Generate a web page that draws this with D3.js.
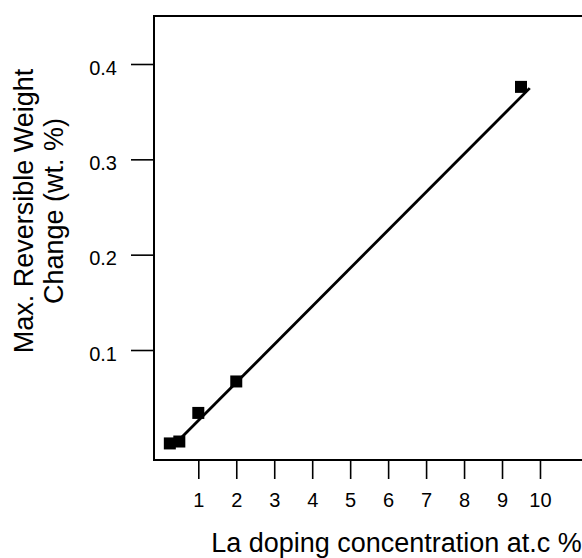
<!DOCTYPE html>
<html>
<head>
<meta charset="utf-8">
<script src="https://cdn.jsdelivr.net/npm/d3@7"></script>
<style>
html,body{margin:0;padding:0;background:#fff;}
svg{display:block;}
text{font-family:"Liberation Sans",Arial,sans-serif;fill:#000;}
</style>
</head>
<body>
<svg id="chart" width="582" height="558"></svg>
<script>
// Data
const laConc = [0.25, 0.5, 1, 2, 9.5];
const weightChange = [0.002, 0.004, 0.034, 0.067, 0.376];
const fitX = [0.385, 9.73];
const fitY = [0.0014, 0.3747];
const xTicks = [1, 2, 3, 4, 5, 6, 7, 8, 9, 10];
const yTicks = [0.1, 0.2, 0.3, 0.4];
const xTitle = "La doping concentration at.c %";
const yTitle = ["Max. Reversible Weight", "Change (wt. %)"];

(function () {
const svg = d3.select("#chart");
const mLeft = 154, mTop = 16, mBottom = 460, mRight = 600;
const tickFont = 20;

const x = d3.scaleLinear().domain([1, 9.5]).range([198.3, 521]);
const y = d3.scaleLinear().domain([0.1, 0.4]).range([350, 64]);

// Frame (right side off-canvas)
svg.append("path")
  .attr("d", `M${mRight},${mTop}H${mLeft}V${mBottom}H${mRight}`)
  .attr("fill", "none").attr("stroke", "#000").attr("stroke-width", 2);

// Y axis
const yAxis = svg.append("g").attr("transform", `translate(${mLeft},0)`)
  .call(d3.axisLeft(y).tickValues(yTicks).tickSize(23).tickPadding(14).tickFormat(d3.format(".1f")));
yAxis.attr("font-size", tickFont).attr("font-family", "Liberation Sans, Arial, sans-serif");
yAxis.select(".domain").remove();
yAxis.selectAll("line").attr("stroke", "#000").attr("stroke-width", 1.6);
yAxis.selectAll("text").attr("dy", "0.5em").attr("fill", "#000");

// X axis
const xAxis = svg.append("g").attr("transform", `translate(0,${mBottom})`)
  .call(d3.axisBottom(x).tickValues(xTicks).tickSize(19).tickPadding(14).tickFormat(d3.format("d")));
xAxis.attr("font-size", tickFont).attr("font-family", "Liberation Sans, Arial, sans-serif");
xAxis.select(".domain").remove();
xAxis.selectAll("line").attr("stroke", "#000").attr("stroke-width", 1.6);
xAxis.selectAll("text").attr("fill", "#000");

// Fit line
const fit = fitX.map((v, i) => [v, fitY[i]]);
svg.append("path").datum(fit)
  .attr("d", d3.line().x(d => x(d[0])).y(d => y(d[1])))
  .attr("fill", "none").attr("stroke", "#000").attr("stroke-width", 2.8);

// Markers
const ms = 12;
svg.append("g").selectAll("rect").data(laConc.map((v, i) => [v, weightChange[i]]))
  .join("rect")
  .attr("x", d => x(d[0]) - ms / 2).attr("y", d => y(d[1]) - ms / 2)
  .attr("width", ms).attr("height", ms).attr("fill", "#000");

// Titles
svg.append("text").attr("x", 396.5).attr("y", 552).attr("text-anchor", "middle")
  .attr("font-size", 27).text(xTitle);

const yt = svg.append("text").attr("transform", "translate(0,211) rotate(-90)")
  .attr("text-anchor", "middle").attr("font-size", 27);
yt.append("tspan").attr("x", 0).attr("y", 33).text(yTitle[0]);
yt.append("tspan").attr("x", 0).attr("y", 63).text(yTitle[1]);
})();
</script>
</body>
</html>
